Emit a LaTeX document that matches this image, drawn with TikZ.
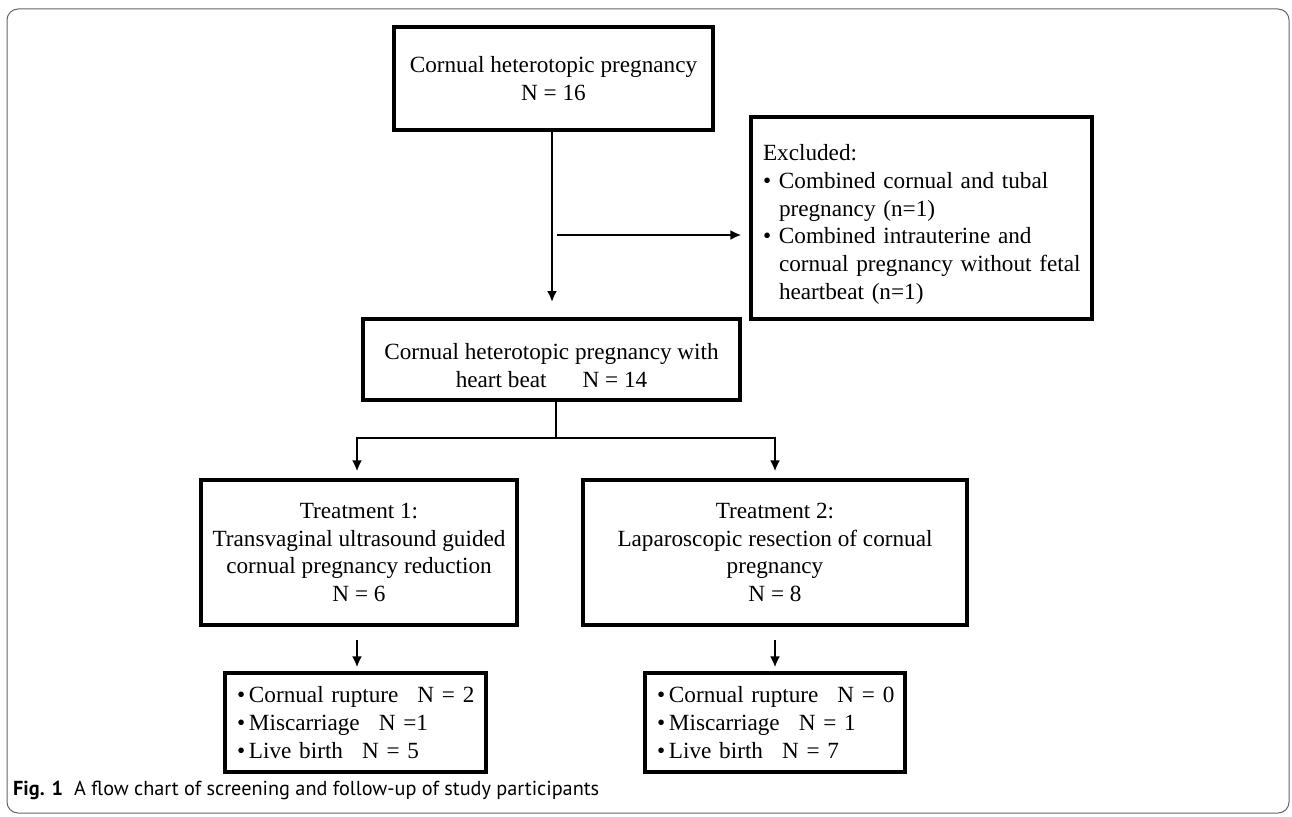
\documentclass[tikz,border=0pt]{standalone}
\usepackage{fontspec}
\setmainfont{Liberation Serif}
\newfontfamily\capfont{PT Sans}
\usetikzlibrary{arrows.meta}
\begin{document}
\begin{tikzpicture}[x=1pt,y=-1pt,
  txt/.style={font=\fontsize{23.2pt}{27.8pt}\selectfont},
  box/.style={txt, draw, line width=3.2pt, inner sep=0pt, align=center},
  lbox/.style={box, align=left, inner xsep=12pt},
  conn/.style={line width=2.6pt},
  arr/.style={conn, -{Latex[length=11pt,width=10pt]}}]
\useasboundingbox (0,0) rectangle (1292,816);
\draw[black!60, line width=1pt, rounded corners=11pt] (7,9) rectangle (1289,813);

\node[box, minimum width=319pt, minimum height=103pt] (top) at (553.5,78.5)
  {Cornual heterotopic pregnancy\\N = 16};
\node[lbox, minimum width=341pt, minimum height=202pt, text width=317pt] (excl) at (921.5,218)
  {\rule{0pt}{29pt}Excluded:\\
   \mbox{\makebox[16pt][l]{•}Combined cornual and tubal}\\
   \mbox{\hspace*{16pt}pregnancy (n=1)}\\
   \mbox{\makebox[16pt][l]{•}Combined intrauterine and}\\
   \mbox{\hspace*{16pt}cornual pregnancy without fetal}\\
   \mbox{\hspace*{16pt}heartbeat (n=1)}};
\node[box, minimum width=377pt, minimum height=81pt] (mid) at (551.5,359.5)
  {\rule{0pt}{29pt}Cornual heterotopic pregnancy with\\heart beat\hspace{36pt}N = 14};
\node[box, minimum width=316pt, minimum height=145pt] (t1) at (359,552.5)
  {Treatment 1:\\Transvaginal ultrasound guided\\cornual pregnancy reduction\\N = 6};
\node[box, minimum width=384pt, minimum height=145pt] (t2) at (775,552.5)
  {Treatment 2:\\Laparoscopic resection of cornual\\pregnancy\\N = 8};
\node[lbox, minimum width=261pt, minimum height=99pt, text width=237pt] (r1) at (355.5,722.5)
  {\mbox{•\,Cornual rupture\hspace{19pt}N = 2}\\
   \mbox{•\,Miscarriage\hspace{19pt}N =1}\\
   \mbox{•\,Live birth\hspace{19pt}N = 5}};
\node[lbox, minimum width=260pt, minimum height=99pt, text width=236pt] (r2) at (775,722.5)
  {\mbox{•\,Cornual rupture\hspace{19pt}N = 0}\\
   \mbox{•\,Miscarriage\hspace{19pt}N = 1}\\
   \mbox{•\,Live birth\hspace{19pt}N = 7}};

\coordinate (tipA) at (552,302);
\draw[arr] (top.south -| tipA) -- (tipA);
\coordinate (hA) at (557,235);
\draw[arr, shorten >=8pt] (hA) -- (hA -| excl.west);

\coordinate (j) at (556,438);
\coordinate (jl) at (357,438);
\coordinate (jr) at (775,438);
\draw[conn] (mid.south -| j) -- (j);
\draw[conn] ([xshift=-1.3pt]jl) -- ([xshift=1.3pt]jr);
\draw[arr, shorten >=7pt] (jl) -- (jl |- t1.north);
\draw[arr, shorten >=7pt] (jr) -- (jr |- t2.north);

\coordinate (dl) at (357,640);
\coordinate (dr) at (775,640);
\draw[arr, shorten >=4pt] (dl) -- (dl |- r1.north);
\draw[arr, shorten >=4pt] (dr) -- (dr |- r2.north);

\node[anchor=west, inner sep=0pt] (cap) at (13,790)
  {\resizebox{586pt}{!}{\capfont\fontsize{17pt}{20pt}\selectfont\textbf{Fig. 1}\hspace{0.55em}A flow chart of screening and follow-up of study participants}};
\end{tikzpicture}
\end{document}
